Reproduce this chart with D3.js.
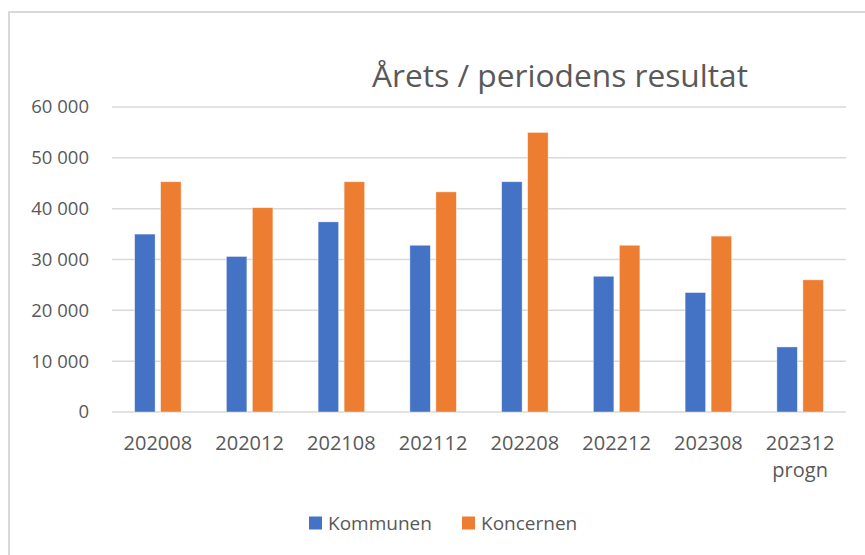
<!DOCTYPE html>
<html>
<head>
<meta charset="utf-8">
<script src="https://cdn.jsdelivr.net/npm/d3@7"></script>
<style>
    html, body { margin: 0; padding: 0; background: #fff; }
    svg { display: block; }
    text { font-family: "Open Sans", sans-serif; fill: #595959; }
</style>
</head>
<body>
<svg id="chart" width="865" height="555"></svg>
<script>
var categories = ['202008', '202012', '202108', '202112', '202208', '202212', '202308', '202312\nprogn'];
var kommunen = [35000, 30600, 37400, 32800, 45300, 26700, 23500, 12800];
var koncernen = [45300, 40200, 45300, 43300, 55000, 32800, 34600, 26000];
var yTicks = [0, 10000, 20000, 30000, 40000, 50000, 60000];
var seriesNames = ['Kommunen', 'Koncernen'];
var seriesColors = ['#4472C4', '#ED7D31'];

(function draw() {
    var svg = d3.select('#chart');

    // frame of the chart area (only top and left edges are inside the picture)
    svg.append('path')
        .attr('d', 'M9,560 L9,12 L870,12')
        .attr('fill', 'none')
        .attr('stroke', '#d9d9d9')
        .attr('stroke-width', 2);

    var x = d3.scaleBand().domain(categories).range([112, 846]).padding(0);
    var y = d3.scaleLinear().domain([0, 60000]).range([412, 107]);

    var barW = 20.5, gap = 5.5;
    var fmt = function(v) { return d3.format(',')(v).replace(/,/g, ' '); };

    // gridlines
    svg.append('g').selectAll('line').data(yTicks).enter().append('line')
        .attr('x1', 112).attr('x2', 846)
        .attr('y1', function(d) { return y(d); })
        .attr('y2', function(d) { return y(d); })
        .attr('stroke', '#d9d9d9')
        .attr('stroke-width', 1.5);

    // y labels
    svg.append('g').selectAll('text').data(yTicks).enter().append('text')
        .attr('x', 89)
        .attr('y', function(d) { return y(d); })
        .attr('dy', '0.35em')
        .attr('text-anchor', 'end')
        .style('font-size', '18.5px')
        .text(fmt);

    var series = [kommunen, koncernen];
    series.forEach(function(values, s) {
        svg.append('g').selectAll('rect').data(values).enter().append('rect')
            .attr('x', function(d, i) {
                var c = x(categories[i]) + x.bandwidth() / 2;
                return s === 0 ? c - gap / 2 - barW : c + gap / 2;
            })
            .attr('y', function(d) { return y(d); })
            .attr('width', barW)
            .attr('height', function(d) { return y(0) - y(d); })
            .attr('fill', seriesColors[s])
            .attr('stroke', '#fff')
            .attr('stroke-opacity', 0.5)
            .attr('stroke-width', 0.8);
    });

    // x labels, can be two lines
    var xl = svg.append('g').selectAll('text').data(categories).enter().append('text')
        .attr('x', function(d) { return x(d) + x.bandwidth() / 2; })
        .attr('y', 450)
        .attr('text-anchor', 'middle')
        .style('font-size', '20px');
    xl.each(function(d) {
        var t = d3.select(this);
        d.split('\n').forEach(function(line, i) {
            t.append('tspan')
                .attr('x', t.attr('x'))
                .attr('dy', i === 0 ? 0 : 27)
                .text(line);
        });
    });

    svg.append('text')
        .attr('x', 560)
        .attr('y', 87)
        .attr('text-anchor', 'middle')
        .style('font-size', '31.7px')
        .text('Årets / periodens resultat');

    // legend
    var legendX = [309, 462];
    seriesNames.forEach(function(name, i) {
        var g = svg.append('g').attr('transform', 'translate(' + legendX[i] + ',523)');
        g.append('rect')
            .attr('x', 0).attr('y', -6.5)
            .attr('width', 13).attr('height', 13)
            .attr('fill', seriesColors[i]);
        g.append('text')
            .attr('x', 19).attr('y', 0)
            .attr('dy', '0.35em')
            .style('font-size', '19px')
            .text(name);
    });
})();
</script>
</body>
</html>
